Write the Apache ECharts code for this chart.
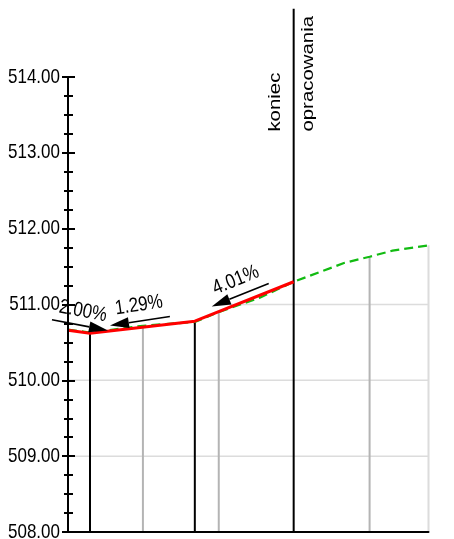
<!DOCTYPE html>
<html><head><meta charset="utf-8">
<script src="https://cdn.jsdelivr.net/npm/echarts@6/dist/echarts.min.js"></script>
<style>html,body{margin:0;padding:0;background:#fff}#c{width:454px;height:539px}</style>
</head><body><div id="c"></div>
<script>
// ---- data ----
const yMin = 508, yMax = 514, yStep = 1;
const yTicks = [508, 509, 510, 511, 512, 513, 514];
const xMin = 0, xMax = 50;
const gridLevels = [509, 510, 511];
const gridFrom = [0, 0, 20.91];
const terrainX = [0, 3.05, 10.39, 17.59, 20.91, 26.6, 31.3, 38.37, 41.83, 45.01, 50];
const terrainY = [510.67, 510.63, 510.72, 510.77, 510.90, 511.09, 511.30, 511.55, 511.63, 511.71, 511.78];
const designX = [0, 3.05, 17.59, 31.3];
const designY = [510.66, 510.62, 510.78, 511.30];
const verticalX = [3.05, 10.39, 17.59, 20.91, 31.3, 41.83, 50];
const verticalTop = [510.62, 510.72, 510.78, 510.90, 514.90, 511.63, 511.78];
const verticalKind = ['design', 'terrain', 'design', 'terrain', 'end', 'terrain', 'edge'];
const slopeLabels = ['2.00%', '1.29%', '4.01%'];
const arrowTail = [[-2.22, 510.80], [14.13, 510.842], [27.84, 511.277]];
const arrowTip = [[5.54, 510.657], [5.82, 510.723], [19.94, 510.974]];
const slopeLabelAt = [[2.08, 510.91], [9.83, 510.99], [23.27, 511.32]];
const endLabels = ['koniec', 'opracowania'];
const endLabelAt = [31.3, 513.28];

// ---- chart ----
const FONT = 'Liberation Sans, Arial, sans-serif';
const STRETCH = 1.2;
const kindColor = { design: '#000', end: '#000', terrain: '#b4b4b4', edge: '#dcdcdc' };

const chart = echarts.init(document.getElementById('c'), null, { renderer: 'canvas' });

const yAxisBase = {
  type: 'value', min: yMin, max: yMax, interval: yStep, position: 'left', z: 10,
  splitLine: { show: false }, splitArea: { show: false }, axisLabel: { show: false }
};

chart.setOption({
  animation: false,
  backgroundColor: '#fff',
  grid: { left: 68, right: 25.5, top: 77, bottom: 7, containLabel: false },
  xAxis: {
    type: 'value', min: xMin, max: xMax, z: 10,
    axisLine: { show: true, onZero: false, lineStyle: { color: '#000', width: 2 } },
    axisTick: { show: false }, axisLabel: { show: false }, splitLine: { show: false }
  },
  yAxis: [
    Object.assign({}, yAxisBase, {
      axisLine: { show: true, onZero: false, lineStyle: { color: '#000', width: 2 } },
      axisTick: { show: true, inside: false, length: 6, lineStyle: { color: '#000', width: 2 } },
      minorTick: { show: true, splitNumber: 4, length: 4, lineStyle: { color: '#000', width: 2 } }
    }),
    Object.assign({}, yAxisBase, {
      offset: 0,
      axisLine: { show: false },
      axisTick: { show: true, inside: true, length: 7, lineStyle: { color: '#000', width: 2 } },
      minorTick: { show: true, splitNumber: 4, length: 5, lineStyle: { color: '#000', width: 2 } }
    })
  ],
  series: [
    { // horizontal grid lines
      type: 'custom', z: 1, silent: true,
      data: gridLevels.map((v, i) => [gridFrom[i], v]),
      renderItem: (params, api) => {
        const a = api.coord([api.value(0), api.value(1)]);
        const b = api.coord([xMax, api.value(1)]);
        return { type: 'line', shape: { x1: a[0], y1: a[1], x2: b[0], y2: b[1] },
          style: { stroke: '#dcdcdc', lineWidth: 1.5 } };
      }
    },
    { // y tick labels
      type: 'custom', z: 8, silent: true, clip: false,
      data: yTicks.map(v => [xMin, v]),
      renderItem: (params, api) => {
        const v = api.value(1);
        const c = api.coord([xMin, v]);
        return { type: 'text', x: c[0] - 8, y: c[1], scaleY: STRETCH,
          style: { text: v.toFixed(2), fill: '#000', fontSize: 17, fontFamily: FONT,
            align: 'right', verticalAlign: 'middle' } };
      }
    },
    { // vertical station lines
      type: 'custom', z: 3, silent: true, clip: false,
      data: verticalX.map((x, i) => [x, verticalTop[i]]),
      renderItem: (params, api) => {
        const x = api.value(0), top = api.value(1);
        const a = api.coord([x, yMin]), b = api.coord([x, top]);
        return { type: 'line', shape: { x1: a[0], y1: a[1], x2: b[0], y2: b[1] },
          style: { stroke: kindColor[verticalKind[params.dataIndex]], lineWidth: 2 } };
      }
    },
    { // terrain
      type: 'line', z: 4, symbol: 'none', silent: true,
      data: terrainX.map((x, i) => [x, terrainY[i]]),
      lineStyle: { color: '#12bb12', width: 2.2, type: [9, 5] }
    },
    { // design grade line
      type: 'line', z: 5, symbol: 'none', silent: true,
      data: designX.map((x, i) => [x, designY[i]]),
      lineStyle: { color: '#ff0000', width: 3 }
    },
    { // arrows
      type: 'custom', z: 6, silent: true, clip: false,
      data: arrowTip,
      renderItem: (params, api) => {
        const i = params.dataIndex;
        const t = api.coord(arrowTail[i]), p = api.coord(arrowTip[i]);
        const dx = p[0] - t[0], dy = p[1] - t[1], len = Math.hypot(dx, dy);
        const ux = dx / len, uy = dy / len, nx = -uy, ny = ux;
        const hl = 19, hw = 5.5;
        const bx = p[0] - ux * hl, by = p[1] - uy * hl;
        return { type: 'group', children: [
          { type: 'line', shape: { x1: t[0], y1: t[1], x2: bx, y2: by },
            style: { stroke: '#000', lineWidth: 1.6 } },
          { type: 'polygon', shape: { points: [[p[0], p[1]], [bx + nx * hw, by + ny * hw], [bx - nx * hw, by - ny * hw]] },
            style: { fill: '#000' } }
        ] };
      }
    },
    { // slope labels
      type: 'custom', z: 7, silent: true, clip: false,
      data: slopeLabelAt,
      renderItem: (params, api) => {
        const i = params.dataIndex;
        const t = api.coord(arrowTail[i]), p = api.coord(arrowTip[i]);
        const L = t[0] < p[0] ? t : p, R = t[0] < p[0] ? p : t;
        const rot = -Math.atan2(R[1] - L[1], R[0] - L[0]);
        const c = api.coord(slopeLabelAt[i]);
        return { type: 'text', x: c[0], y: c[1], rotation: rot, scaleY: STRETCH,
          style: { text: slopeLabels[i], fill: '#000', fontSize: 17, fontFamily: FONT,
            align: 'center', verticalAlign: 'middle' } };
      }
    },
    { // end of work labels
      type: 'custom', z: 7, silent: true, clip: false,
      data: [endLabelAt],
      renderItem: (params, api) => {
        const c = api.coord(endLabelAt);
        const offs = [-18, 15];
        return { type: 'group', children: endLabels.map((s, k) => ({
          type: 'text', x: c[0] + offs[k], y: c[1], rotation: Math.PI / 2, scaleX: STRETCH,
          style: { text: s, fill: '#000', fontSize: 17, fontFamily: FONT,
            align: 'left', verticalAlign: 'middle' } })) };
      }
    }
  ]
});
</script></body></html>
